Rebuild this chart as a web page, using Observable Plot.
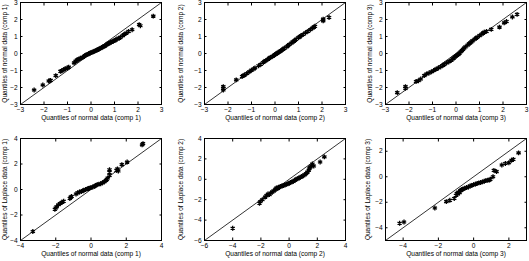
<!DOCTYPE html>
<html><head><meta charset="utf-8">
<script src="https://cdn.jsdelivr.net/npm/d3@7"></script>
<script src="https://cdn.jsdelivr.net/npm/@observablehq/plot@0.6"></script>
<style>
html,body{margin:0;padding:0;background:#fff;}
#chart{position:relative;width:529px;height:261px;overflow:hidden;}
#chart svg{position:absolute;}
</style></head><body><div id="chart"></div>
<script>
// ---- data ----
const p1x = [-2.42,-2.05,-1.8,-1.75,-1.72,-1.5,-1.3,-1.25,-1.15,-1.1,-1.0,-0.95,-0.72,-0.65,-0.6,-0.55,-0.5,-0.45,-0.35,-0.3,-0.25,-0.2,-0.15,-0.1,-0.05,0,0.05,0.1,0.15,0.2,0.25,0.3,0.35,0.4,0.45,0.5,0.55,0.6,0.65,0.7,0.75,0.8,0.85,0.9,0.95,1.0,1.05,1.1,1.2,1.25,1.35,1.4,1.5,1.6,1.75,2.05,2.1,2.65];
const p1y = [-2.15,-1.85,-1.62,-1.6,-1.58,-1.3,-1.05,-1.02,-0.95,-0.9,-0.85,-0.8,-0.55,-0.45,-0.38,-0.35,-0.32,-0.28,-0.22,-0.18,-0.12,-0.08,-0.05,-0.02,0.02,0.05,0.08,0.1,0.13,0.17,0.2,0.24,0.27,0.3,0.35,0.38,0.42,0.45,0.5,0.55,0.6,0.62,0.66,0.7,0.72,0.76,0.8,0.85,0.9,0.95,1.05,1.12,1.2,1.3,1.4,1.7,1.63,2.2];

const p2x = [-2.2,-2.2,-2.2,-1.65,-1.4,-1.35,-1.3,-1.2,-1.1,-1.0,-0.9,-0.85,-0.7,-0.6,-0.5,-0.45,-0.4,-0.3,-0.25,-0.2,-0.1,-0.05,0,0.05,0.1,0.15,0.2,0.25,0.3,0.35,0.4,0.5,0.55,0.6,0.7,0.75,0.8,0.85,0.9,1.0,1.05,1.1,1.2,1.3,1.4,1.5,1.6,1.65,1.7,2.05,2.05,2.3];
const p2y = [-1.95,-2.05,-2.15,-1.55,-1.35,-1.3,-1.27,-1.18,-1.08,-0.98,-0.9,-0.85,-0.72,-0.63,-0.53,-0.47,-0.42,-0.34,-0.28,-0.24,-0.16,-0.12,-0.06,-0.02,0.02,0.07,0.12,0.16,0.21,0.26,0.31,0.4,0.46,0.52,0.62,0.68,0.72,0.78,0.84,0.94,0.98,1.04,1.12,1.22,1.3,1.4,1.5,1.55,1.6,1.92,2.02,2.12];

const p3x = [-2.5,-2.15,-2.15,-1.7,-1.6,-1.5,-1.35,-1.25,-1.15,-1.05,-0.95,-0.85,-0.75,-0.65,-0.55,-0.5,-0.4,-0.3,-0.2,-0.15,-0.1,-0.05,0,0.05,0.1,0.15,0.2,0.25,0.3,0.35,0.4,0.5,0.55,0.6,0.65,0.7,0.8,0.85,0.9,1.0,1.1,1.15,1.2,1.3,1.5,1.85,2.05,2.15,2.4,2.6];
const p3y = [-2.3,-2.05,-1.95,-1.65,-1.6,-1.5,-1.3,-1.2,-1.15,-1.08,-1.0,-0.92,-0.85,-0.78,-0.7,-0.64,-0.55,-0.48,-0.4,-0.32,-0.27,-0.2,-0.15,-0.1,-0.05,0.02,0.1,0.17,0.25,0.32,0.38,0.5,0.57,0.62,0.68,0.74,0.85,0.9,0.95,1.05,1.15,1.2,1.25,1.3,1.42,1.55,1.8,1.88,2.15,2.3];

const p4x = [-3.3,-2.05,-2.0,-1.95,-1.85,-1.75,-1.65,-1.55,-1.2,-1.15,-1.1,-0.85,-0.75,-0.65,-0.55,-0.45,-0.4,-0.3,-0.2,-0.15,-0.1,0,0.1,0.2,0.25,0.35,0.45,0.55,0.65,0.75,0.85,0.9,0.95,1.05,1.05,1.05,1.45,1.5,1.55,1.75,2.05,2.9,2.95];
const p4y = [-3.3,-1.55,-1.45,-1.35,-1.2,-1.1,-1.0,-0.92,-0.7,-0.6,-0.55,-0.35,-0.25,-0.2,-0.15,-0.1,-0.05,0.0,0.05,0.08,0.1,0.15,0.2,0.25,0.3,0.38,0.42,0.45,0.52,0.6,0.7,0.8,0.9,1.1,1.55,1.35,1.5,1.62,1.45,1.95,2.15,3.5,3.6];

const p5x = [-4.0,-2.1,-2.05,-1.9,-1.7,-1.6,-1.5,-1.4,-1.3,-1.2,-1.1,-1.0,-0.95,-0.9,-0.8,-0.75,-0.7,-0.6,-0.5,-0.4,-0.3,-0.2,-0.1,0,0.1,0.2,0.3,0.4,0.5,0.6,0.7,0.8,0.9,1.0,1.1,1.2,1.3,1.4,1.45,1.5,1.6,1.65,1.75,2.2,2.5];
const p5y = [-4.8,-2.35,-2.2,-2.0,-1.75,-1.6,-1.45,-1.5,-1.35,-1.25,-1.15,-1.05,-0.95,-0.85,-0.9,-0.8,-0.75,-0.7,-0.65,-0.6,-0.55,-0.5,-0.45,-0.4,-0.3,-0.25,-0.2,-0.1,0.0,0.05,0.12,0.2,0.28,0.35,0.45,0.55,0.7,0.9,1.1,1.2,1.3,1.5,1.3,1.7,2.2];

const p6x = [-4.2,-3.95,-2.2,-1.55,-1.35,-1.1,-1.0,-0.95,-0.9,-0.85,-0.8,-0.75,-0.7,-0.65,-0.6,-0.5,-0.4,-0.3,-0.2,-0.1,0,0.1,0.2,0.3,0.4,0.5,0.6,0.7,0.8,0.9,0.95,1.1,1.15,1.3,1.6,1.8,2.0,2.15,2.25,2.55];
const p6y = [-3.65,-3.55,-2.45,-1.95,-1.85,-1.7,-1.45,-1.3,-1.35,-1.2,-1.25,-1.1,-1.05,-1.0,-0.95,-0.9,-0.85,-0.8,-0.72,-0.68,-0.62,-0.58,-0.52,-0.48,-0.45,-0.4,-0.35,-0.3,-0.28,-0.25,-0.2,0.0,0.5,0.4,0.92,1.04,1.1,1.3,1.36,1.87];

const domain3 = [-3, 3], domain4 = [-4, 4], domain5 = [-6, 4], domain6 = [-5, 3];
const ticks3 = [-3,-2,-1,0,1,2,3];
const ticks4 = [-4,-2,0,2,4];
const ticks5 = [-6,-4,-2,0,2,4];
const ticks6 = [-4,-2,0,2];
const xLabels = ["Quantiles of normal data (comp 1)","Quantiles of normal data (comp 2)","Quantiles of normal data (comp 3)",
                 "Quantiles of normal data (comp 1)","Quantiles of normal data (comp 2)","Quantiles of normal data (comp 3)"];
const yLabels = ["Quantiles of normal data (comp 1)","Quantiles of normal data (comp 2)","Quantiles of normal data (comp 3)",
                 "Quantiles of Laplace data (comp 1)","Quantiles of Laplace data (comp 2)","Quantiles of Laplace data (comp 3)"];

// ---- layout ----
const FONT = "'Liberation Sans', Arial, Helvetica, sans-serif";
const panels = [
  {xs:p1x, ys:p1y, xd:domain3, yd:domain3, xt:ticks3, yt:ticks3, left:0,   top:0,   mt:2, yl:-15.5},
  {xs:p2x, ys:p2y, xd:domain3, yd:domain3, xt:ticks3, yt:ticks3, left:184, top:0,   mt:2, yl:-24},
  {xs:p3x, ys:p3y, xd:domain3, yd:domain3, xt:ticks3, yt:ticks3, left:365, top:0,   mt:2, yl:-15.5},
  {xs:p4x, ys:p4y, xd:domain4, yd:domain4, xt:ticks4, yt:ticks4, left:0,   top:130, mt:8, yl:-15.5},
  {xs:p5x, ys:p5y, xd:domain5, yd:domain5, xt:ticks5, yt:ticks5, left:184, top:130, mt:8, yl:-24},
  {xs:p6x, ys:p6y, xd:domain6, yd:domain6, xt:ticks6, yt:ticks6, left:365, top:130, mt:8, yl:-18}
];
const FW = 141, FH = 102, ML = 20, MR = 4, MB = 24;
const chart = document.getElementById("chart");
panels.forEach((p, i) => {
  const pts = p.xs.map((x, j) => ({x, y: p.ys[j]}));
  const diag = [{x: p.xd[0], y: p.yd[0]}, {x: p.xd[1], y: p.yd[1]}];
  const svg = Plot.plot({
    width: ML + FW + MR, height: p.mt + FH + MB,
    marginLeft: ML, marginRight: MR, marginTop: p.mt, marginBottom: MB,
    x: {domain: p.xd}, y: {domain: p.yd},
    style: {fontFamily: FONT, fontSize: "6.6px", color: "black", background: "transparent", overflow: "visible"},
    marks: [
      Plot.line(diag, {x: "x", y: "y", stroke: "black", strokeWidth: 0.8}),
      Plot.dot(pts, {x: "x", y: "y", symbol: "asterisk", r: 2.3, stroke: "black", strokeWidth: 1.3}),
      Plot.frame({stroke: "black", strokeWidth: 1}),
      Plot.axisX(p.xt, {anchor: "bottom", tickSize: -2.5, tickPadding: 5.8, label: null, fontSize: 6.6}),
      Plot.axisX(p.xt, {anchor: "top", tickSize: -2.5, tickFormat: () => "", label: null}),
      Plot.axisY(p.yt, {anchor: "left", tickSize: -2.5, tickPadding: 5.3, label: null, fontSize: 6.6}),
      Plot.axisY(p.yt, {anchor: "right", tickSize: -2.5, tickFormat: () => "", label: null}),
      Plot.text([xLabels[i]], {frameAnchor: "bottom", dy: 13, textAnchor: "middle", lineAnchor: "middle", fontSize: 6.6}),
      Plot.text([yLabels[i]], {frameAnchor: "left", dx: p.yl, rotate: -90, textAnchor: "middle", lineAnchor: "middle", fontSize: 6.5})
    ]
  });
  svg.style.left = p.left + "px";
  svg.style.top = p.top + "px";
  chart.appendChild(svg);
});
</script></body></html>
